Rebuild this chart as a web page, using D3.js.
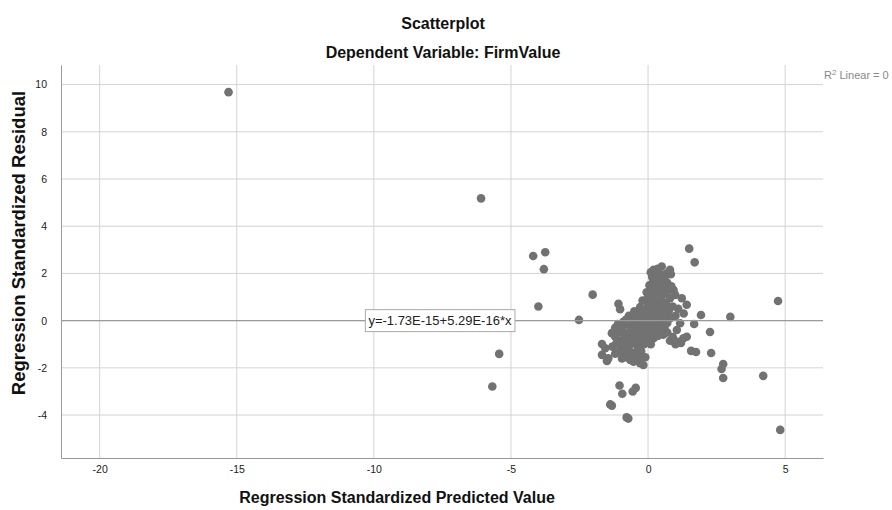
<html>
<head>
<script src="https://d3js.org/d3.v7.min.js" charset="utf-8"></script>
<style>
  body { margin: 0; background: #fff; }
  text { font-family: "Liberation Sans", Arial, sans-serif; }
</style>
</head>
<body>
<script>
var w = 892;
var h = 510;

// standardized predicted (x) / standardized residual (y)
var outliers = [
  [-15.3, 9.68], [-6.09, 5.18], [-4.19, 2.74], [-3.75, 2.9], [-3.8, 2.18], [-4.0, 0.6],
  [-5.43, -1.41], [-5.68, -2.79], [-2.02, 1.1], [-2.52, 0.03], [4.74, 0.83], [4.82, -4.63],
  [4.2, -2.34], [3.0, 0.16], [1.5, 3.05], [1.7, 2.47]
];
var lowerGroup = [
  [-1.04, -2.75], [-0.94, -3.1], [-0.56, -3.0], [-0.45, -2.85], [-1.38, -3.55], [-1.32, -3.6],
  [-0.78, -4.1], [-0.72, -4.15]
];
var rightArm = [
  [1.93, 0.24], [1.68, -0.14], [2.26, -0.48], [2.3, -1.37], [2.74, -1.84], [2.68, -2.05],
  [2.74, -2.43], [1.75, -1.33], [1.57, -1.28], [1.17, -0.11], [1.41, -0.68], [1.29, -0.75],
  [1.23, 0.95], [1.41, 0.67], [0.93, 1.3], [0.99, 1.09], [1.1, -0.9], [0.9, -0.7], [0.7, -0.5],
  [1.0, -1.0], [0.8, -0.85], [1.2, -0.95], [0.6, -0.3], [1.05, -0.4], [1.3, 0.3], [1.1, 0.5], [1.0, 0.2]
];
var topGroup = [
  [0.2, 2.15], [0.35, 2.2], [0.5, 2.29], [0.8, 2.15], [0.83, 1.97], [0.1, 2.05], [0.3, 1.9],
  [0.6, 1.95], [0.45, 1.75], [0.2, 1.7], [0.7, 1.6], [0.05, 1.5], [0.4, 1.5], [0.85, 1.45],
  [0.25, 1.3], [0.6, 1.3], [-0.05, 1.2], [0.15, 1.05], [0.5, 1.05], [0.8, 0.95], [-0.2, 0.85],
  [0.3, 0.8], [0.65, 0.75], [0.0, 0.7], [0.9, 0.6],
  [0.1, 0.6], [0.4, 0.65], [0.7, 0.55], [0.15, 0.9], [0.45, 0.9], [0.0, 1.0], [0.35, 1.15],
  [0.65, 1.15], [0.1, 1.35], [0.45, 1.35], [0.75, 1.3], [0.15, 1.55], [0.55, 1.55], [0.3, 1.65],
  [0.6, 1.75], [0.15, 1.85], [0.45, 1.95], [0.25, 2.05], [0.7, 2.0]
];
var core = [
  [-1.08, 0.71], [-1.02, 0.48], [-0.29, 0.57], [-0.5, 0.4], [-0.1, 0.45], [0.2, 0.5], [0.5, 0.5],
  [0.75, 0.4], [-0.7, 0.2], [-0.4, 0.2], [-0.1, 0.15], [0.2, 0.2], [0.5, 0.15], [0.8, 0.1],
  [-0.9, -0.05], [-0.6, -0.05], [-0.3, 0.0], [0.0, -0.05], [0.3, -0.05], [0.55, 0.0],
  [-0.9, -0.22], [-0.96, -0.39], [-1.2, -0.3], [-0.6, -0.3], [-0.3, -0.3], [0.0, -0.3], [0.3, -0.25],
  [-1.32, -0.53], [-1.2, -0.68], [-0.8, -0.55], [-0.5, -0.6], [-0.2, -0.55], [0.1, -0.5], [0.4, -0.45],
  [-1.0, -0.85], [-0.7, -0.85], [-0.4, -0.8], [-0.1, -0.8], [0.2, -0.75], [-1.68, -0.99],
  [-1.56, -1.17], [-1.68, -1.45], [-1.5, -1.71], [-1.3, -1.1], [-1.0, -1.15], [-0.7, -1.1],
  [-0.4, -1.05], [-0.15, -1.0], [0.1, -1.0], [-1.2, -1.4], [-0.9, -1.35], [-0.5, -1.35],
  [-0.25, -1.3], [-0.65, -1.67], [-0.53, -1.74], [-0.29, -1.8], [-0.17, -1.88], [-0.8, -1.55],
  [-0.1, -1.55], [-1.45, -1.6],
  [-0.8, 0.05], [-0.5, 0.05], [-0.2, 0.05], [0.1, 0.05], [0.4, 0.05], [0.7, -0.1], [-1.1, -0.15],
  [-0.75, -0.15], [-0.45, -0.15], [-0.15, -0.15], [0.15, -0.15], [0.45, -0.15], [-1.05, -0.5],
  [-0.65, -0.45], [-0.35, -0.45], [-0.05, -0.4], [0.25, -0.4], [0.55, -0.6], [-0.85, -0.7],
  [-0.55, -0.7], [-0.25, -0.65], [0.05, -0.65], [0.35, -0.65], [-1.15, -0.95], [-0.85, -1.0],
  [-0.55, -0.95], [-0.25, -0.9], [0.0, -0.9], [-1.05, -1.3], [-0.75, -1.25], [-0.35, -1.2],
  [-0.6, -1.45], [-0.35, -1.55], [-0.95, -1.6], [0.05, 0.35], [0.35, 0.35], [0.65, 0.25],
  [-0.25, 0.3], [-0.55, 0.25]
];
var points = outliers.concat(lowerGroup, rightArm, topGroup, core);

var xTicks = [-20, -15, -10, -5, 0, 5];
var yTicks = [-4, -2, 0, 2, 4, 6, 8, 10];
var fitIntercept = -1.73e-15;
var fitSlope = 5.29e-16;

var plotL = 61, plotR = 823, plotT = 65, plotB = 458;

var svg = d3.select("body").append("svg")
  .attr("width", w)
  .attr("height", h);

var x = d3.scaleLinear().domain([-21.41, 6.38]).range([plotL, plotR]);
var y = d3.scaleLinear().domain([-5.82, 10.83]).range([plotB, plotT]);

// gridlines
svg.selectAll(".vgrid").data(xTicks).enter().append("line")
  .attr("x1", function(d){ return x(d); }).attr("x2", function(d){ return x(d); })
  .attr("y1", plotT).attr("y2", plotB)
  .attr("stroke", "#d4d4d4").attr("stroke-width", 1);
svg.selectAll(".hgrid").data(yTicks).enter().append("line")
  .attr("x1", plotL).attr("x2", plotR)
  .attr("y1", function(d){ return y(d); }).attr("y2", function(d){ return y(d); })
  .attr("stroke", "#d4d4d4").attr("stroke-width", 1);

// axes
var fmt = function(d){ return String(d); };
var xAxis = svg.append("g").attr("transform", "translate(0," + plotB + ")")
  .call(d3.axisBottom(x).tickValues(xTicks).tickFormat(fmt).tickSize(0).tickPadding(8));
var yAxis = svg.append("g").attr("transform", "translate(" + plotL + ",0)")
  .call(d3.axisLeft(y).tickValues(yTicks).tickFormat(fmt).tickSize(0).tickPadding(14));
[xAxis, yAxis].forEach(function(g){
  g.select(".domain").attr("stroke", "#999");
  g.selectAll("text").attr("font-size", 10.5).attr("fill", "#222")
    .attr("font-family", "Liberation Sans, Arial, sans-serif");
});

// points
svg.selectAll(".pt").data(points).enter().append("circle")
  .attr("class", "pt")
  .attr("cx", function(d){ return x(d[0]); })
  .attr("cy", function(d){ return y(d[1]); })
  .attr("r", 4.3)
  .attr("fill", "#727272");

// fit line
svg.append("line")
  .attr("x1", x(-21.41)).attr("x2", x(6.38))
  .attr("y1", y(fitIntercept + fitSlope * -21.41))
  .attr("y2", y(fitIntercept + fitSlope * 6.38))
  .attr("stroke", "#9a9a9a").attr("stroke-width", 1.2);

// equation label
var lbl = svg.append("g");
var lblText = lbl.append("text")
  .attr("x", x(-10.2)).attr("y", y(0) + 4.5)
  .attr("font-size", 13).attr("fill", "#222")
  .text("y=-1.73E-15+5.29E-16*x");
var bb = lblText.node().getBBox();
lbl.insert("rect", "text")
  .attr("x", bb.x - 3).attr("y", y(0) - 11)
  .attr("width", bb.width + 6).attr("height", 22)
  .attr("fill", "#fff").attr("stroke", "#aaa");

// R2 label
var r2 = svg.append("text").attr("x", plotR + 1).attr("y", 79)
  .attr("font-size", 11).attr("fill", "#888");
r2.append("tspan").text("R");
r2.append("tspan").attr("dy", -4).attr("font-size", 8).text("2");
r2.append("tspan").attr("dy", 4).text(" Linear = 0");

// titles
svg.append("text").attr("x", 443).attr("y", 29).attr("text-anchor", "middle")
  .attr("font-size", 16).attr("font-weight", "bold").attr("fill", "#111").text("Scatterplot");
svg.append("text").attr("x", 443).attr("y", 58).attr("text-anchor", "middle")
  .attr("font-size", 16).attr("font-weight", "bold").attr("fill", "#111")
  .text("Dependent Variable: FirmValue");
svg.append("text").attr("x", 397).attr("y", 503).attr("text-anchor", "middle")
  .attr("font-size", 16).attr("font-weight", "bold").attr("fill", "#111")
  .text("Regression Standardized Predicted Value");
svg.append("text").attr("transform", "translate(25,243) rotate(-90)").attr("text-anchor", "middle")
  .attr("font-size", 18.5).attr("font-weight", "bold").attr("fill", "#111")
  .text("Regression Standardized Residual");
</script>
</body>
</html>
